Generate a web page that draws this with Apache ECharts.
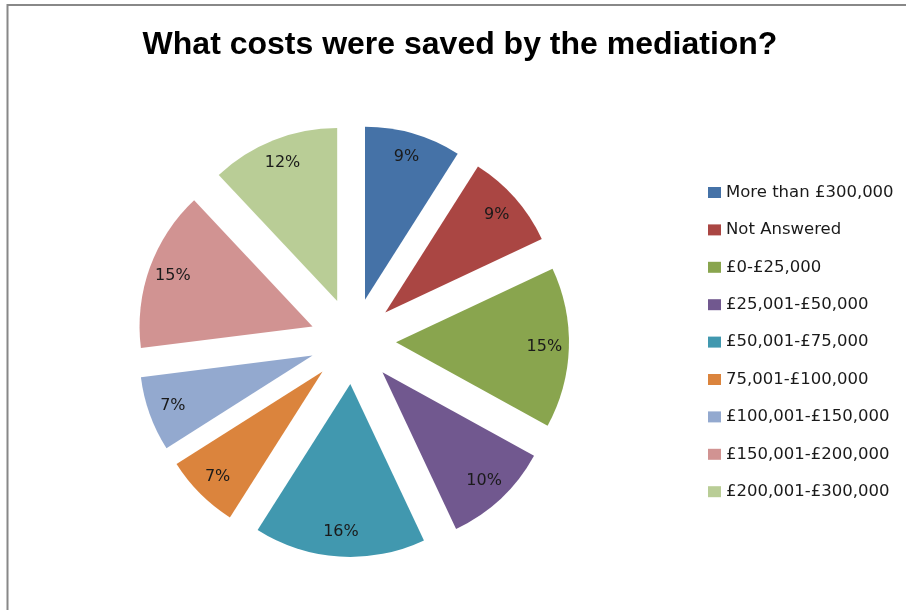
<!DOCTYPE html>
<html>
<head>
<meta charset="utf-8">
<script src="https://cdn.jsdelivr.net/npm/echarts@6/dist/echarts.min.js"></script>
<style>
  html, body { margin: 0; padding: 0; background: #fff; }
  #chart { width: 907px; height: 610px; }
</style>
</head>
<body>
<div id="chart"></div>
<script>
// Cost bands saved by mediation, percentage of respondents
const categories = [
  'More than £300,000',
  'Not Answered',
  '£0-£25,000',
  '£25,001-£50,000',
  '£50,001-£75,000',
  '75,001-£100,000',
  '£100,001-£150,000',
  '£150,001-£200,000',
  '£200,001-£300,000'
];
const shares = [9, 9, 15, 10, 16, 7, 7, 15, 12];
const palette = ['#4572A7', '#AA4643', '#89A54E', '#71588F', '#4198AF',
                 '#DB843D', '#93A9CF', '#D19392', '#B9CD96'];

const TITLE_FONT = '"Liberation Sans", Arial, sans-serif';
const BODY_FONT = '"DejaVu Sans", Verdana, sans-serif';
const CENTER = [353, 341];
const R = 173;
const EXPLODE = 43;

const slices = categories.map((name, i) => ({
  name: name,
  value: shares[i],
  selected: true,
  itemStyle: { color: palette[i] }
}));

const chart = echarts.init(document.getElementById('chart'), null, { renderer: 'canvas' });

chart.setOption({
  animation: false,
  backgroundColor: '#ffffff',
  color: palette,
  title: {
    text: 'What costs were saved by the mediation?',
    left: 455,
    textAlign: 'center',
    top: 24,
    textStyle: { fontFamily: TITLE_FONT, fontSize: 32, fontWeight: 'bold', color: '#000' }
  },
  legend: {
    orient: 'vertical',
    left: 703,
    top: 179,
    itemWidth: 13,
    itemHeight: 11,
    itemGap: 20.4,
    icon: 'rect',
    selectedMode: false,
    data: categories,
    textStyle: { fontFamily: BODY_FONT, fontSize: 16.5, color: '#1a1a1a' }
  },
  graphic: [{
    type: 'polyline',
    shape: { points: [[7.5, 610], [7.5, 5], [906, 5]] },
    style: { stroke: '#888888', lineWidth: 2, fill: null },
    silent: true
  }],
  series: [
    {
      name: 'slices',
      type: 'pie',
      center: CENTER,
      radius: [0, R],
      startAngle: 90,
      clockwise: true,
      selectedMode: 'multiple',
      selectedOffset: EXPLODE,
      avoidLabelOverlap: false,
      label: { show: false },
      labelLine: { show: false },
      emphasis: { disabled: true },
      select: { itemStyle: { borderWidth: 0 } },
      itemStyle: { borderWidth: 0 },
      data: slices
    },
    {
      // transparent ring that carries the percentage labels near the rim
      name: 'labels',
      type: 'pie',
      center: CENTER,
      radius: [118, R],
      startAngle: 90,
      clockwise: true,
      selectedMode: 'multiple',
      selectedOffset: EXPLODE,
      silent: true,
      avoidLabelOverlap: false,
      emphasis: { disabled: true },
      select: { itemStyle: { borderWidth: 0, color: 'rgba(0,0,0,0)' } },
      itemStyle: { color: 'rgba(0,0,0,0)', borderWidth: 0 },
      label: {
        show: true,
        position: 'inside',
        formatter: '{c}%',
        fontFamily: BODY_FONT,
        fontSize: 16,
        color: '#1a1a1a'
      },
      labelLine: { show: false },
      data: categories.map((name, i) => ({ name: name, value: shares[i], selected: true }))
    }
  ]
});
</script>
</body>
</html>
